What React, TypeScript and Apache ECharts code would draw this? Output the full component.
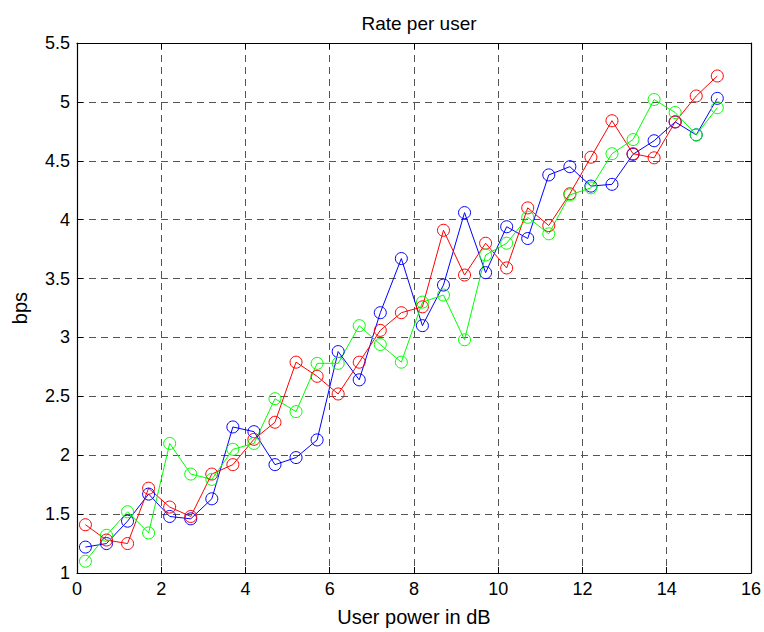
import React, { useEffect, useRef } from "react";
import * as echarts from "echarts";

const xPower = [0.2, 0.7, 1.2, 1.7, 2.2, 2.7, 3.2, 3.7, 4.2, 4.7, 5.2, 5.7, 6.2, 6.7, 7.2, 7.7, 8.2, 8.7, 9.2, 9.7, 10.2, 10.7, 11.2, 11.7, 12.2, 12.7, 13.2, 13.7, 14.2, 14.7, 15.2];

const blueRate = [1.22, 1.25, 1.44, 1.67, 1.48, 1.46, 1.63, 2.24, 2.2, 1.92, 1.98, 2.13, 2.88, 2.64, 3.21, 3.67, 3.1, 3.445, 4.06, 3.55, 3.94, 3.84, 4.38, 4.45, 4.285, 4.3, 4.555, 4.67, 4.83, 4.72, 5.03];

const redRate = [1.41, 1.28, 1.25, 1.72, 1.56, 1.48, 1.84, 1.92, 2.135, 2.28, 2.79, 2.67, 2.52, 2.79, 3.06, 3.21, 3.26, 3.91, 3.53, 3.8, 3.59, 4.1, 3.95, 4.22, 4.53, 4.84, 4.56, 4.525, 4.83, 5.05, 5.22];

const greenRate = [1.1, 1.32, 1.52, 1.34, 2.1, 1.84, 1.795, 2.05, 2.1, 2.48, 2.37, 2.78, 2.78, 3.1, 2.94, 2.79, 3.3, 3.36, 2.98, 3.7, 3.8, 4.02, 3.88, 4.21, 4.27, 4.56, 4.68, 5.02, 4.91, 4.72, 4.95];

const titleText = "Rate per user";
const xName = "User power in dB";
const yName = "bps";

const FONT = "'Liberation Sans', Arial, Helvetica, sans-serif";

function pairs(ys: number[]) {
  return xPower.map((x, i) => [x, ys[i]]);
}

function makeSeries(name: string, color: string, ys: number[]) {
  return {
    name,
    type: "line",
    data: pairs(ys),
    symbol: "circle",
    symbolSize: 12,
    showSymbol: true,
    lineStyle: { color, width: 1 },
    itemStyle: { color: "rgba(255,255,255,0)", borderColor: color, borderWidth: 1 },
    emphasis: { disabled: true },
  };
}

export default function App() {
  const ref = useRef<HTMLDivElement>(null);
  useEffect(() => {
    if (!ref.current) return;
    const chart = echarts.init(ref.current, undefined, { renderer: "svg" });
    const axisLine = { show: true, onZero: false, lineStyle: { color: "#000", width: 1.2 } };
    const tick = { show: true, inside: true, length: 6, lineStyle: { color: "#000", width: 1 } };
    const grid = { show: true, lineStyle: { color: "#555", width: 1, type: [7, 5] } };
    chart.setOption({
      animation: false,
      backgroundColor: "#fff",
      title: {
        text: titleText,
        left: 414,
        top: 9,
        textAlign: "center",
        textStyle: { fontFamily: FONT, fontSize: 19, fontWeight: "normal", color: "#000" },
      },
      grid: { left: 77, right: 12, top: 43, bottom: 59, containLabel: false },
      xAxis: [
        {
          type: "value",
          position: "bottom",
          min: 0,
          max: 16,
          interval: 2,
          name: xName,
          nameLocation: "middle",
          nameGap: 34,
          nameTextStyle: { fontFamily: FONT, fontSize: 20, color: "#000" },
          axisLine,
          axisTick: tick,
          axisLabel: { fontFamily: FONT, fontSize: 18, color: "#000", margin: 7 },
          splitLine: grid,
        },
        {
          type: "value",
          position: "top",
          min: 0,
          max: 16,
          interval: 2,
          axisLine,
          axisTick: tick,
          axisLabel: { show: false },
          splitLine: { show: false },
        },
      ],
      yAxis: [
        {
          type: "value",
          position: "left",
          min: 1,
          max: 5.5,
          interval: 0.5,
          name: yName,
          nameLocation: "middle",
          nameGap: 47,
          nameTextStyle: { fontFamily: FONT, fontSize: 20, color: "#000" },
          axisLine,
          axisTick: tick,
          axisLabel: { fontFamily: FONT, fontSize: 18, color: "#000", margin: 7 },
          splitLine: grid,
        },
        {
          type: "value",
          position: "right",
          min: 1,
          max: 5.5,
          interval: 0.5,
          axisLine,
          axisTick: tick,
          axisLabel: { show: false },
          splitLine: { show: false },
        },
      ],
      series: [
        makeSeries("blue", "#0000ff", blueRate),
        makeSeries("red", "#ff0000", redRate),
        makeSeries("green", "#00ff00", greenRate),
      ],
    });
    return () => chart.dispose();
  }, []);
  return (
    <div
      ref={ref}
      style={{ position: "fixed", left: 0, top: 0, width: 764, height: 632, background: "#fff" }}
    />
  );
}
